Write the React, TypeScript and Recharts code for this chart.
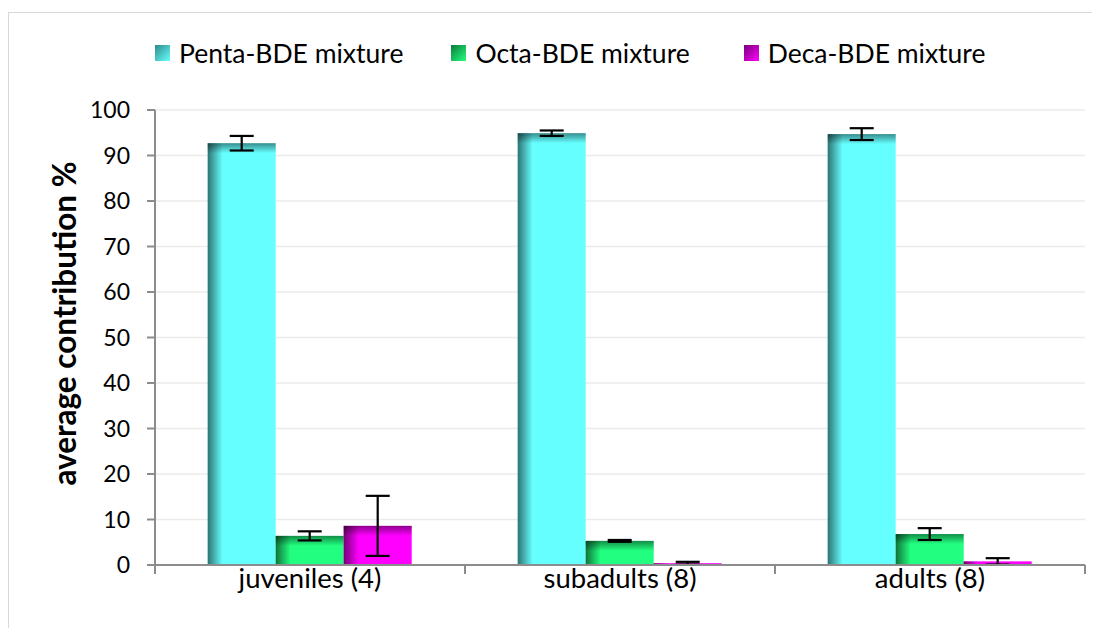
import { BarChart, Bar, XAxis, YAxis, CartesianGrid, Legend, ErrorBar } from 'recharts'

const groups = ['juveniles (4)', 'subadults (8)', 'adults (8)']
const penta = [92.7, 94.9, 94.7]
const pentaErr = [1.6, 0.6, 1.3]
const octa = [6.4, 5.3, 6.8]
const octaErr = [1.0, 0.2, 1.3]
const deca = [8.6, 0.4, 0.8]
const decaErr = [6.6, 0.3, 0.7]
const yTicks = [0, 10, 20, 30, 40, 50, 60, 70, 80, 90, 100]

const series = [
  { key: 'penta', err: 'pentaErr', name: 'Penta-BDE mixture', color: '#66FFFF', dark: '#2f8a8a' },
  { key: 'octa', err: 'octaErr', name: 'Octa-BDE mixture', color: '#22FF80', dark: '#0f7a3a' },
  { key: 'deca', err: 'decaErr', name: 'Deca-BDE mixture', color: '#FF00FF', dark: '#7a007a' },
]

const data = groups.map((g, i) => ({
  group: g,
  penta: penta[i],
  pentaErr: pentaErr[i],
  octa: octa[i],
  octaErr: octaErr[i],
  deca: deca[i],
  decaErr: decaErr[i],
}))

const FONT = 'Lato, "Open Sans", sans-serif'

function ShadedBar(props: any) {
  const { x, y, width, height, fill } = props
  if (!height || height <= 0) return null
  const sideW = Math.min(15, width)
  const topH = Math.min(10, height * 0.5)
  return (
    <g>
      <rect x={x} y={y} width={width} height={height} fill={fill} />
      <rect x={x} y={y} width={sideW} height={height} fill="url(#shadeLeft)" />
      {height > 4 && <rect x={x} y={y} width={width} height={topH} fill="url(#shadeTop)" />}
    </g>
  )
}

function CategoryTick(props: any) {
  const { x, y, payload, index, width, visibleTicksCount } = props
  const half = width / visibleTicksCount / 2
  return (
    <g>
      <line x1={x - half} y1={y} x2={x - half} y2={y + 9} stroke="#8c8c8c" strokeWidth={2} />
      {index === visibleTicksCount - 1 && (
        <line x1={x + half} y1={y} x2={x + half} y2={y + 9} stroke="#8c8c8c" strokeWidth={2} />
      )}
      <text x={x} y={y + 23} textAnchor="middle" fontSize={27.5} fontFamily={FONT} fill="#000">
        {payload.value}
      </text>
    </g>
  )
}

function TopLegend() {
  return (
    <div style={{ display: 'flex', paddingLeft: 146, paddingTop: 4, fontFamily: FONT, fontSize: 26.5 }}>
      {series.map((s, i) => (
        <div
          key={s.key}
          style={{ display: 'flex', alignItems: 'center', gap: 9, marginRight: i === 0 ? 48 : 54 }}
        >
          <span
            style={{
              display: 'inline-block',
              width: 15,
              height: 16,
              background: `linear-gradient(135deg, ${s.dark}, ${s.color})`,
            }}
          />
          <span style={{ color: '#000' }}>{s.name}</span>
        </div>
      ))}
    </div>
  )
}

export default function App() {
  return (
    <div style={{ marginTop: 4, width: 1100, height: 640, border: '1px solid #d9d9d9', background: '#fff' }}>
      <BarChart
        width={1090}
        height={600}
        data={data}
        margin={{ top: 20, right: 14, left: 0, bottom: 8 }}
        barCategoryGap="17%"
        barGap={0}
      >
        <defs>
          <linearGradient id="shadeLeft" x1="0" y1="0" x2="1" y2="0">
            <stop offset="0%" stopColor="#000" stopOpacity={0.55} />
            <stop offset="100%" stopColor="#000" stopOpacity={0} />
          </linearGradient>
          <linearGradient id="shadeTop" x1="0" y1="0" x2="0" y2="1">
            <stop offset="0%" stopColor="#000" stopOpacity={0.45} />
            <stop offset="100%" stopColor="#000" stopOpacity={0} />
          </linearGradient>
        </defs>
        <CartesianGrid vertical={false} stroke="#ebebeb" strokeWidth={1.5} />
        <Legend verticalAlign="top" height={77} content={() => <TopLegend />} />
        <XAxis
          dataKey="group"
          axisLine={{ stroke: '#8c8c8c', strokeWidth: 2 }}
          tickLine={false}
          tickSize={0}
          tickMargin={0}
          height={40}
          interval={0}
          tick={<CategoryTick />}
        />
        <YAxis
          width={146}
          domain={[0, 100]}
          ticks={yTicks}
          interval={0}
          axisLine={{ stroke: '#8c8c8c', strokeWidth: 2 }}
          tickLine={{ stroke: '#8c8c8c', strokeWidth: 2 }}
          tickSize={8}
          tickMargin={17}
          tick={{ fontSize: 23, fontFamily: FONT, fill: '#000' }}
          label={{
            value: 'average contribution %',
            angle: -90,
            position: 'center',
            dx: -17,
            dy: -14,
            style: { fontSize: 31.5, fontWeight: 'bold', fontFamily: FONT, fill: '#000' },
          }}
        />
        {series.map((s) => (
          <Bar key={s.key} dataKey={s.key} name={s.name} fill={s.color} shape={<ShadedBar />} isAnimationActive={false}>
            <ErrorBar dataKey={s.err} width={12} stroke="#000" strokeWidth={2.2} />
          </Bar>
        ))}
      </BarChart>
    </div>
  )
}
